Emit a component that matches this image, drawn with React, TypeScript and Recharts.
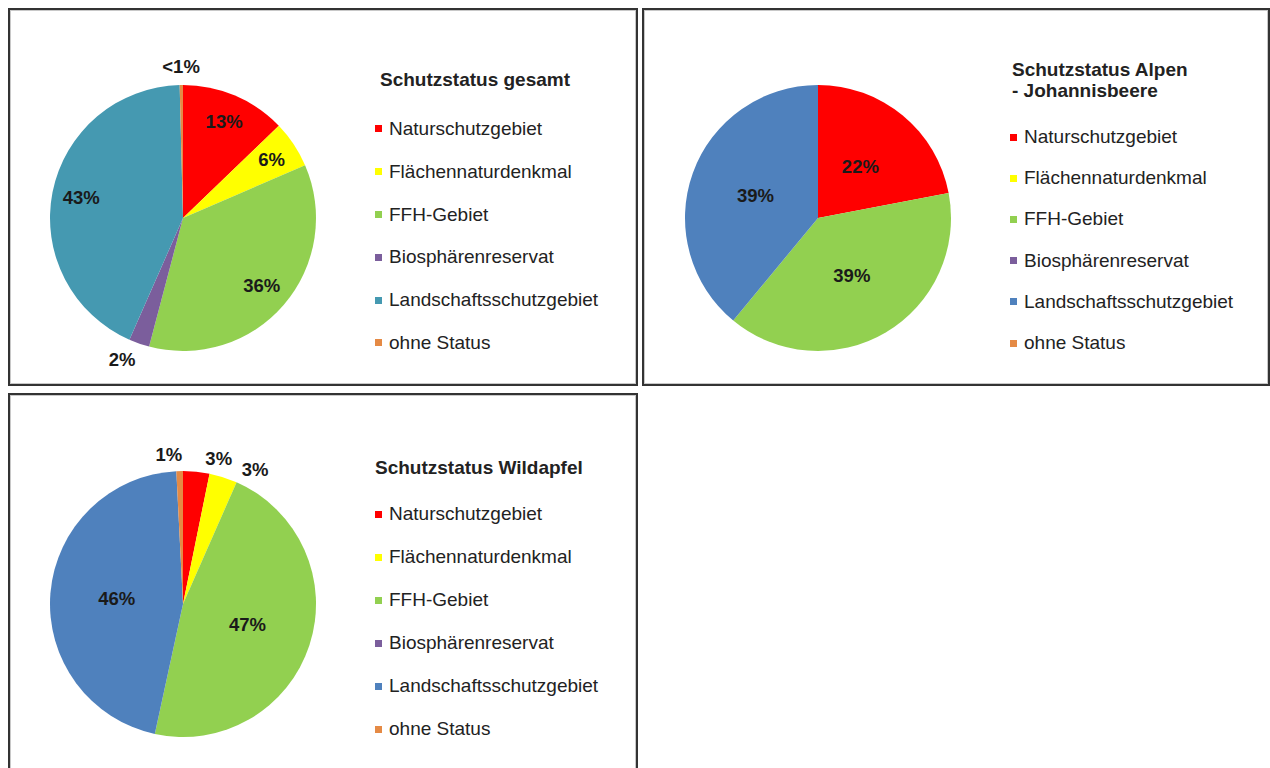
import { PieChart, Pie, Cell, Legend } from "recharts";

const categories = [
  "Naturschutzgebiet",
  "Flächennaturdenkmal",
  "FFH-Gebiet",
  "Biosphärenreservat",
  "Landschaftsschutzgebiet",
  "ohne Status",
];

// Schutzstatus gesamt
const gesamtValues = [12.8, 5.7, 35.6, 2.5, 43.0, 0.4];
const gesamtLabels = ["13%", "6%", "36%", "2%", "43%", "<1%"];

// Schutzstatus Alpen-Johannisbeere
const alpenValues = [22, 0, 39, 0, 39, 0];
const alpenLabels = ["22%", "", "39%", "", "39%", ""];

// Schutzstatus Wildapfel
const wildapfelValues = [3.2, 3.4, 46.8, 0, 45.8, 0.8];
const wildapfelLabels = ["3%", "3%", "47%", "", "46%", "1%"];

const gesamtColors = ["#ff0000", "#ffff00", "#92d050", "#7b5e9c", "#4599b1", "#e58a45"];
const blueColors = ["#ff0000", "#ffff00", "#92d050", "#7b5e9c", "#4f81bd", "#e58a45"];

const FONT = "'Liberation Sans', Arial, sans-serif";
const RADIAN = Math.PI / 180;

type Place = { r: number; shift: number };

// label radius (fraction of outer radius) and clockwise angle shift per slice
const gesamtPlace: Place[] = [
  { r: 0.79, shift: 0 },
  { r: 0.8, shift: 0 },
  { r: 0.78, shift: 0 },
  { r: 1.16, shift: 4 },
  { r: 0.78, shift: 0 },
  { r: 1.14, shift: 0 },
];
const alpenPlace: Place[] = categories.map(() => ({ r: 0.5, shift: 0 }));
const wildapfelPlace: Place[] = [
  { r: 1.13, shift: 8 },
  { r: 1.15, shift: 10.5 },
  { r: 0.51, shift: 0 },
  { r: 0.5, shift: 0 },
  { r: 0.5, shift: 0 },
  { r: 1.13, shift: -4 },
];

function makeLabel(texts: string[], place: Place[]) {
  return (props: any) => {
    const { cx, cy, midAngle, outerRadius, index } = props;
    const t = texts[index];
    if (!t) return <g />;
    const p = place[index];
    const r = outerRadius * p.r;
    const a = (midAngle - p.shift) * RADIAN;
    return (
      <text
        x={cx + r * Math.cos(a)}
        y={cy - r * Math.sin(a)}
        textAnchor="middle"
        dominantBaseline="central"
        fill="#1a1a1a"
        fontFamily={FONT}
        fontSize={18.5}
        fontWeight="bold"
      >
        {t}
      </text>
    );
  };
}

function LegendBox({
  title,
  colors,
  titlePad,
  gap,
  rowH,
}: {
  title: string[];
  colors: string[];
  titlePad: number;
  gap: number;
  rowH: number;
}) {
  return (
    <div style={{ fontFamily: FONT, color: "#222" }}>
      <div style={{ paddingLeft: titlePad, fontWeight: "bold", fontSize: 19, lineHeight: "21px" }}>
        {title.map((l) => (
          <div key={l}>{l}</div>
        ))}
      </div>
      <div style={{ marginTop: gap }}>
        {categories.map((c, i) => (
          <div key={c} style={{ height: rowH, display: "flex", alignItems: "center", fontSize: 19 }}>
            <span
              style={{ width: 7, height: 7, background: colors[i], marginRight: 7, display: "inline-block" }}
            />
            <span>{c}</span>
          </div>
        ))}
      </div>
    </div>
  );
}

function Panel(props: {
  left: number;
  top: number;
  width: number;
  height: number;
  values: number[];
  labels: string[];
  colors: string[];
  place: Place[];
  title: string[];
  cx: number;
  cy: number;
  legendLeft: number;
  legendTop: number;
  titlePad: number;
  gap: number;
  rowH: number;
}) {
  const data = categories.map((name, i) => ({ name, value: props.values[i] }));
  const w = props.width - 4;
  const h = props.height - 4;
  return (
    <div
      style={{
        position: "absolute",
        left: props.left,
        top: props.top,
        width: props.width,
        height: props.height,
        border: "2px solid #333",
        boxShadow: "inset 0 0 0 1px #c8c8c8",
        boxSizing: "border-box",
        background: "#fff",
      }}
    >
      <PieChart width={w} height={h} margin={{ top: 0, right: 0, bottom: 0, left: 0 }}>
        <Pie
          data={data}
          dataKey="value"
          nameKey="name"
          cx={props.cx}
          cy={props.cy}
          outerRadius={133}
          startAngle={90}
          endAngle={-270}
          stroke="none"
          labelLine={false}
          label={makeLabel(props.labels, props.place)}
          isAnimationActive={false}
        >
          {data.map((d, i) => (
            <Cell key={d.name} fill={props.colors[i]} stroke="none" />
          ))}
        </Pie>
        <Legend
          layout="vertical"
          align="right"
          verticalAlign="top"
          wrapperStyle={{ left: props.legendLeft, top: props.legendTop, right: "auto", width: 260 }}
          content={() => (
            <LegendBox
              title={props.title}
              colors={props.colors}
              titlePad={props.titlePad}
              gap={props.gap}
              rowH={props.rowH}
            />
          )}
        />
      </PieChart>
    </div>
  );
}

export default function App() {
  return (
    <div style={{ position: "absolute", left: 0, top: 0, width: 1270, height: 768, overflow: "hidden", background: "#fff" }}>
      <Panel
        left={8}
        top={8}
        width={630}
        height={378}
        values={gesamtValues}
        labels={gesamtLabels}
        colors={gesamtColors}
        place={gesamtPlace}
        title={["Schutzstatus gesamt"]}
        cx={173}
        cy={208}
        legendLeft={365}
        legendTop={59}
        titlePad={5}
        gap={17.6}
        rowH={42.8}
      />
      <Panel
        left={642}
        top={8}
        width={628}
        height={378}
        values={alpenValues}
        labels={alpenLabels}
        colors={blueColors}
        place={alpenPlace}
        title={["Schutzstatus Alpen", "- Johannisbeere"]}
        cx={174}
        cy={208}
        legendLeft={366}
        legendTop={48.5}
        titlePad={2}
        gap={16}
        rowH={41.2}
      />
      <Panel
        left={8}
        top={393}
        width={630}
        height={390}
        values={wildapfelValues}
        labels={wildapfelLabels}
        colors={blueColors}
        place={wildapfelPlace}
        title={["Schutzstatus Wildapfel"]}
        cx={173}
        cy={209}
        legendLeft={365}
        legendTop={62}
        titlePad={0}
        gap={14.5}
        rowH={43}
      />
    </div>
  );
}
